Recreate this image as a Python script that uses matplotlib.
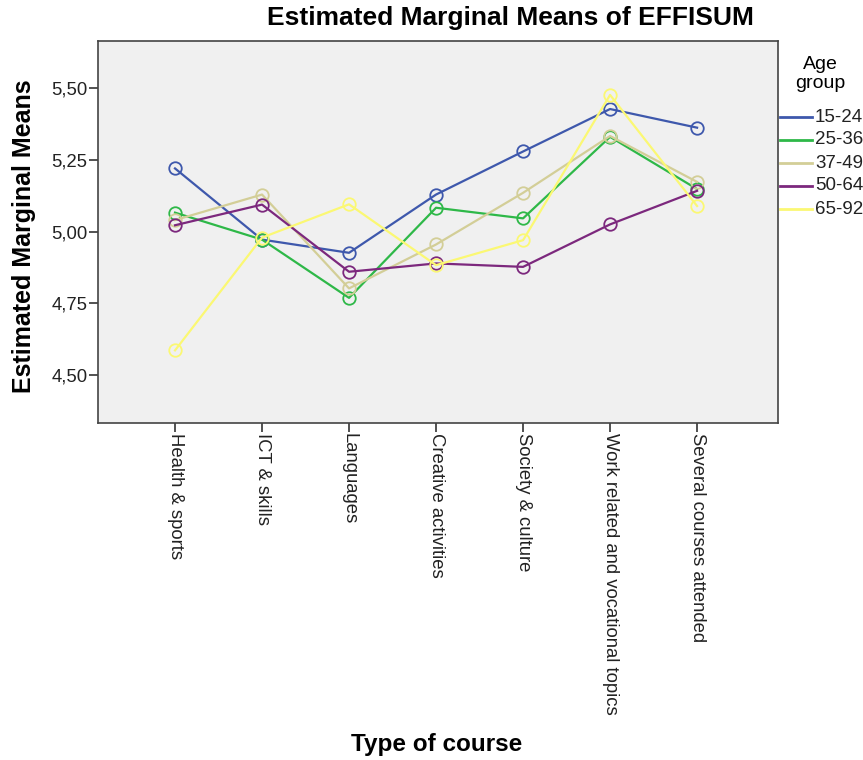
import matplotlib
matplotlib.use("Agg")
import matplotlib.pyplot as plt
from matplotlib.lines import Line2D

plt.rcParams['font.family'] = ['Liberation Sans', 'DejaVu Sans']

categories = ["Health & sports", "ICT & skills", "Languages", "Creative activities",
              "Society & culture", "Work related and vocational topics",
              "Several courses attended"]
groups = ["15-24", "25-36", "37-49", "50-64", "65-92"]
v_15_24 = [5.220, 4.972, 4.926, 5.129, 5.279, 5.427, 5.362]
v_25_36 = [5.066, 4.972, 4.769, 5.083, 5.046, 5.330, 5.148]
v_37_49 = [5.040, 5.129, 4.802, 4.955, 5.135, 5.333, 5.173]
v_50_64 = [5.022, 5.094, 4.860, 4.889, 4.877, 5.025, 5.142]
v_65_92 = [4.586, 4.979, 5.095, 4.883, 4.970, 5.476, 5.089]
series = [v_15_24, v_25_36, v_37_49, v_50_64, v_65_92]
colors = ["#3E58AC", "#2EB848", "#D3CE97", "#7C287D", "#FBF873"]
yticks = [4.50, 4.75, 5.00, 5.25, 5.50]
ytick_labels = ["4,50", "4,75", "5,00", "5,25", "5,50"]

W, H = 863, 760
fig = plt.figure(figsize=(W / 100, H / 100), dpi=100)
ax = fig.add_axes([98 / W, 1 - 423 / H, (778 - 98) / W, (423 - 41) / H])
ax.set_facecolor("#F0F0F0")

x = list(range(len(categories)))
for vals, c in zip(series, colors):
    ax.plot(x, vals, color=c, lw=1.6, marker='o', markersize=9,
            markerfacecolor='none', markeredgecolor=c, markeredgewidth=1.3)

ax.set_xlim(-0.885, 6.93)
ax.set_ylim(4.333, 5.664)
ax.set_yticks(yticks)
ax.set_yticklabels(ytick_labels)
ax.set_xticks(x)
ax.set_xticklabels(categories, rotation=-90, va='top', ha='center')
ax.tick_params(axis='both', direction='out', length=6.5, width=1.2, color='#333333',
               labelsize=13.3, labelcolor='#222222', pad=1)
for s in ax.spines.values():
    s.set_color('#444444')
    s.set_linewidth(1.2)

fig.text(24 / W, 1 - 236 / H, "Estimated Marginal Means", fontsize=18, fontweight='bold',
         rotation=90, ha='center', va='center')
fig.text(437 / W, 1 - 744 / H, "Type of course", fontsize=17.5, fontweight='bold',
         ha='center', va='center')
fig.text(510 / W, 1 - 18 / H, "Estimated Marginal Means of EFFISUM", fontsize=19,
         fontweight='bold', ha='center', va='center')

# legend
fig.text(820 / W, 1 - 74 / H, "Age\ngroup", fontsize=14, ha='center', va='center',
         linespacing=1.2)
for i, (g, c) in enumerate(zip(groups, colors)):
    yy = 1 - (117 + 23 * i) / H
    fig.add_artist(Line2D([780 / W, 812 / W], [yy, yy], color=c, lw=2,
                          transform=fig.transFigure))
    fig.text(815 / W, yy, g, fontsize=13.5, ha='left', va='center', color='#222222')

fig.savefig("out.png", dpi=100, facecolor='white')
